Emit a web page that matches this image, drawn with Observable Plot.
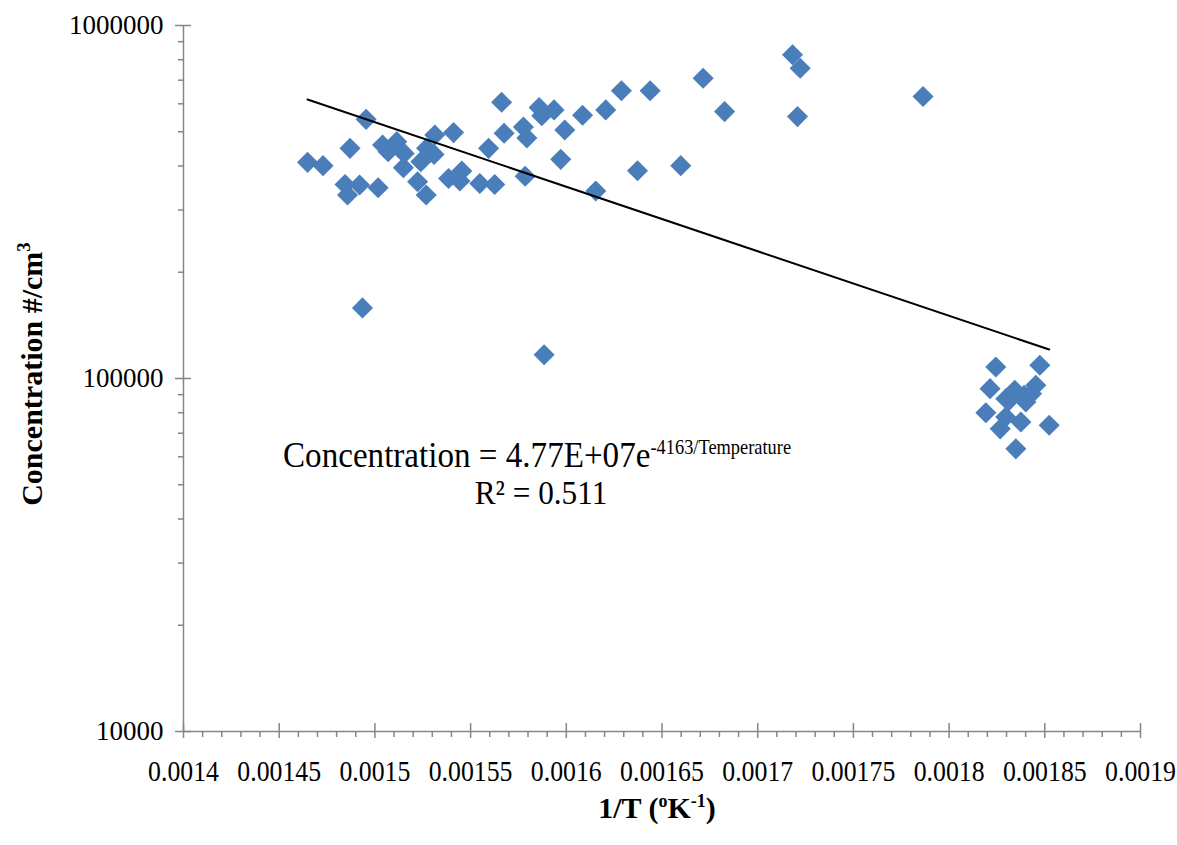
<!DOCTYPE html>
<html><head><meta charset="utf-8">
<script src="https://cdn.jsdelivr.net/npm/d3@7"></script>
<script src="https://cdn.jsdelivr.net/npm/@observablehq/plot@0.6"></script>
<style>body{margin:0;background:#fff;} #chart svg{display:block;}</style>
</head><body><div id="chart"></div>
<script>
// 1/T (1/K) of each measurement
const invT = [
  0.0014648, 0.0014729, 0.0014870, 0.0014954, 0.0014844, 0.0014857, 0.0014920, 0.0015017,
  0.0014935, 0.0015040, 0.0015069, 0.0015114, 0.0015153, 0.0015149, 0.0015223, 0.0015240,
  0.0015268, 0.0015270, 0.0015309, 0.0015313, 0.0015385, 0.0015411, 0.0015444, 0.0015454,
  0.0015548, 0.0015594, 0.0015626, 0.0015662, 0.0015675, 0.0015776, 0.0015785, 0.0015794,
  0.0015858, 0.0015872, 0.0015884, 0.0015936, 0.0015971, 0.0015992, 0.0016085, 0.0016154,
  0.0016206, 0.0016288, 0.0016372, 0.0016438, 0.0016598, 0.0016715, 0.0016827, 0.0017182,
  0.0017222, 0.0017208, 0.0017864,
  0.0018244, 0.0018474, 0.0018214, 0.0018192, 0.0018267, 0.0018349, 0.0018375, 0.0018523,
  0.0018296, 0.0018314, 0.0018343, 0.0018392, 0.0018453, 0.0018431, 0.0018401, 0.0018296
];
// Concentration (#/cm3)
const conc = [
  409500, 400800, 448700, 542200, 354600, 330900, 353200, 347000,
  158500, 458800, 439100, 468800, 434200, 395600, 360900, 411400,
  330900, 448700, 431400, 489800, 368800, 497300, 362600, 387100,
  356900, 448700, 354600, 605900, 495000, 515400, 374100, 480200,
  585300, 555500, 116800, 576600, 417600, 506000, 556600, 339700,
  576600, 653200, 387900, 653600, 400800, 708800, 570200, 826000,
  756500, 551900, 629000,
  107800, 109000, 93600, 80000, 72000, 63200, 75300, 73700,
  77800, 86700, 92600, 89600, 95700, 90500, 85800, 87600
];
// exponential trend line end points
const trendX = [0.0014648, 0.0018523];
const trendY = [617000, 120800];

const xTicks = [0.0014, 0.00145, 0.0015, 0.00155, 0.0016, 0.00165, 0.0017, 0.00175, 0.0018, 0.00185, 0.0019];
const xTickLabels = ["0.0014", "0.00145", "0.0015", "0.00155", "0.0016", "0.00165", "0.0017", "0.00175", "0.0018", "0.00185", "0.0019"];
const yTicks = [10000, 100000, 1000000];
const yTickLabels = ["10000", "100000", "1000000"];

const equationMain = "Concentration = 4.77E+07e";
const equationSup = "-4163/Temperature";
const rSquared = "R² = 0.511";

const points = invT.map((x, i) => ({x, y: conc[i]}));
const trend = trendX.map((x, i) => ({x, y: trendY[i]}));
const xMinor = d3.range(140, 191).filter(k => k % 5 !== 0).map(k => k / 100000);
const yMinor = [2, 3, 4, 5, 6, 7, 8, 9].flatMap(m => [m * 10000, m * 100000]);

const axisGray = "#868686";
const serif = "'Liberation Serif', 'Times New Roman', serif";

const plot = Plot.plot({
  width: 1177, height: 845,
  marginLeft: 183, marginRight: 37, marginTop: 25, marginBottom: 114,
  style: {fontFamily: serif, fontSize: "26px", background: "white", color: "black"},
  x: {type: "linear", domain: [0.0014, 0.0019]},
  y: {type: "log", domain: [10000, 1000000]},
  marks: [
    Plot.ruleX([0.0014], {stroke: axisGray, strokeWidth: 1.5}),
    Plot.ruleY([10000], {stroke: axisGray, strokeWidth: 1.5}),
    Plot.axisX(xMinor, {tickSize: 6, tickFormat: () => "", stroke: axisGray, strokeWidth: 1.5, label: null}),
    Plot.axisY(yMinor, {tickSize: 5, tickFormat: () => "", stroke: axisGray, strokeWidth: 1.5, label: null}),
    Plot.ruleX(xTicks, {y1: 10000, y2: 10000, insetTop: 7, insetBottom: 8, stroke: axisGray, strokeWidth: 1.5}),
    Plot.ruleY(yTicks, {x1: 0.0014, x2: 0.0014, insetLeft: -8, insetRight: -8, stroke: axisGray, strokeWidth: 1.5}),
    Plot.axisX(xTicks, {tickSize: 0, tickPadding: 28, fontSize: 30, tickFormat: d => xTickLabels[xTicks.indexOf(d)], label: null, fill: "black"}),
    Plot.axisY(yTicks, {tickSize: 0, tickPadding: 20, fontSize: 27, tickFormat: d => yTickLabels[yTicks.indexOf(d)], label: null, fill: "black"}),
    Plot.dot(points, {x: "x", y: "y", symbol: "diamond2", r: 9.5, fill: "#4a7ebb"}),
    Plot.line(trend, {x: "x", y: "y", stroke: "black", strokeWidth: 2})
  ]
});

const svg = d3.select(plot);
// condense x tick labels horizontally (tall, narrow glyphs as in the reference)
svg.selectAll('g[aria-label="x-axis tick label"] text').each(function() {
  const t = d3.select(this);
  t.attr("transform", (t.attr("transform") || "") + " scale(0.86,1)");
});

// equation
const eq = svg.append("text").attr("transform", "translate(283,467) scale(0.92,1)")
  .attr("text-anchor", "start")
  .attr("font-family", serif).attr("font-size", 36).attr("fill", "black");
eq.append("tspan").text(equationMain);
eq.append("tspan").attr("dy", -13).attr("font-size", 20).text(equationSup);
svg.append("text").attr("transform", "translate(541,504) scale(0.92,1)").attr("text-anchor", "middle")
  .attr("font-family", serif).attr("font-size", 34).attr("fill", "black").text(rSquared);

// y axis title
const yt = svg.append("text").attr("transform", "translate(42,374) rotate(-90)")
  .attr("text-anchor", "middle").attr("font-family", serif).attr("font-weight", "bold")
  .attr("font-size", 30).attr("fill", "black");
yt.append("tspan").text("Concentration #/cm");
yt.append("tspan").attr("dy", -12).attr("font-size", 19).text("3");

// x axis title
const xt = svg.append("text").attr("x", 657).attr("y", 818)
  .attr("text-anchor", "middle").attr("font-family", serif).attr("font-weight", "bold")
  .attr("font-size", 30).attr("fill", "black");
xt.append("tspan").text("1/T (");
xt.append("tspan").attr("dy", -11).attr("font-size", 18).text("o");
xt.append("tspan").attr("dy", 11).text("K");
xt.append("tspan").attr("dy", -11).attr("font-size", 18).text("-1");
xt.append("tspan").attr("dy", 11).text(")");

document.getElementById("chart").appendChild(plot);
</script>
</body></html>
